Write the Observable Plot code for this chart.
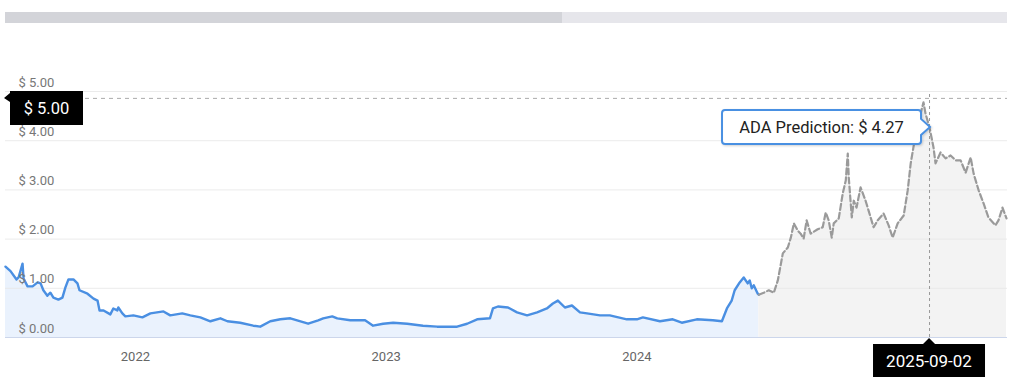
<!DOCTYPE html>
<html>
<head>
<meta charset="utf-8">
<script src="https://cdn.jsdelivr.net/npm/d3@7"></script>
<script src="https://cdn.jsdelivr.net/npm/@observablehq/plot@0.6"></script>
<style>
  html, body { margin: 0; padding: 0; background: #fff; }
  #wrap { position: relative; width: 1024px; height: 383px; overflow: hidden; font-family: Roboto, "Noto Sans", sans-serif; }
  #wrap > svg { position: absolute; left: 0; top: 0; }
  .bar { position: absolute; }
</style>
</head>
<body>
<div id="wrap"></div>
<script>
// ---- data (decimal year, USD) ----
const histYear = [2021.482,2021.502,2021.526,2021.534,2021.550,2021.554,2021.570,2021.590,2021.610,2021.622,2021.633,2021.649,2021.661,2021.673,2021.693,2021.709,2021.721,2021.733,2021.753,2021.769,2021.777,2021.809,2021.833,2021.849,2021.857,2021.873,2021.900,2021.912,2021.928,2021.932,2021.948,2021.960,2021.992,2022.028,2022.060,2022.112,2022.139,2022.187,2022.219,2022.259,2022.299,2022.339,2022.367,2022.418,2022.470,2022.498,2022.538,2022.578,2022.618,2022.645,2022.689,2022.729,2022.749,2022.785,2022.805,2022.857,2022.916,2022.948,2022.988,2023.028,2023.084,2023.147,2023.203,2023.283,2023.323,2023.363,2023.414,2023.426,2023.446,2023.486,2023.522,2023.562,2023.602,2023.641,2023.665,2023.685,2023.713,2023.741,2023.773,2023.801,2023.853,2023.892,2023.960,2024.000,2024.024,2024.092,2024.143,2024.179,2024.239,2024.303,2024.339,2024.359,2024.378,2024.390,2024.410,2024.426,2024.442,2024.450,2024.458,2024.466,2024.482,2024.486];
const histPrice = [1.44,1.35,1.18,1.22,1.50,1.20,1.04,1.04,1.12,1.10,0.96,0.85,0.91,0.81,0.77,0.81,1.02,1.18,1.18,1.10,0.96,0.89,0.79,0.75,0.55,0.55,0.47,0.59,0.55,0.61,0.49,0.43,0.45,0.41,0.49,0.53,0.45,0.49,0.45,0.41,0.33,0.39,0.33,0.30,0.24,0.22,0.33,0.37,0.39,0.35,0.28,0.35,0.39,0.43,0.39,0.35,0.35,0.24,0.28,0.30,0.28,0.24,0.22,0.22,0.28,0.37,0.39,0.59,0.63,0.61,0.51,0.45,0.51,0.59,0.69,0.75,0.61,0.65,0.51,0.49,0.45,0.45,0.37,0.37,0.41,0.33,0.37,0.30,0.37,0.35,0.33,0.59,0.75,0.96,1.12,1.22,1.10,1.16,1.00,1.06,0.89,0.87];
const predYear = [2024.486,2024.506,2024.526,2024.546,2024.562,2024.582,2024.602,2024.614,2024.626,2024.642,2024.653,2024.665,2024.677,2024.693,2024.721,2024.741,2024.753,2024.765,2024.777,2024.785,2024.805,2024.821,2024.833,2024.841,2024.845,2024.857,2024.865,2024.876,2024.892,2024.912,2024.924,2024.944,2024.960,2024.984,2025.004,2025.020,2025.040,2025.064,2025.080,2025.092,2025.104,2025.124,2025.143,2025.151,2025.167,2025.183,2025.191,2025.211,2025.231,2025.251,2025.271,2025.291,2025.311,2025.331,2025.343,2025.363,2025.383,2025.402,2025.430,2025.442,2025.458,2025.474];
const predPrice = [0.87,0.91,0.96,0.91,1.16,1.71,1.83,2.03,2.32,2.17,2.11,2.01,2.38,2.11,2.20,2.24,2.54,2.38,2.03,2.32,2.42,2.93,3.19,3.74,3.25,2.44,2.78,2.64,3.05,2.78,2.58,2.24,2.38,2.52,2.28,2.03,2.32,2.48,2.99,3.54,3.90,4.41,4.78,4.55,4.27,3.86,3.54,3.76,3.64,3.70,3.60,3.60,3.35,3.66,3.33,2.99,2.72,2.44,2.28,2.38,2.64,2.42];
const xDomain = [2021.482, 2025.478];
const xTicks = [2022, 2023, 2024];
const yTicks = [0, 1, 2, 3, 4, 5];
const crossYear = 2025.167;      // hovered point
const crossPrice = 4.86;         // horizontal crosshair level
const tipPrice = 4.27;
const tipText = "ADA Prediction: $ 4.27";
const yLabelText = "$ 5.00";
const dateText = "2025-09-02";
const navigatorShare = 0.556;

const hist = histYear.map((t, i) => ({t, p: histPrice[i]}));
const pred = predYear.map((t, i) => ({t, p: predPrice[i]}));

const chart = Plot.plot({
  width: 1024, height: 383,
  marginTop: 91, marginBottom: 46, marginLeft: 5, marginRight: 17,
  x: {domain: xDomain, label: null},
  y: {domain: [0, 5], axis: null, label: null},
  style: {fontFamily: "Roboto, sans-serif", background: "transparent", overflow: "visible"},
  marks: [
    Plot.areaY(hist, {x: "t", y: "p", fill: "#eaf2fd"}),
    Plot.areaY(pred, {x: "t", y: "p", fill: "#f3f3f3"}),
    Plot.ruleY(yTicks.filter(d => d > 0), {stroke: "#e6e6e6", strokeOpacity: 0.8}),
    Plot.ruleY([0], {stroke: "#ccd6eb"}),
    Plot.lineY(hist, {x: "t", y: "p", stroke: "#4a8fe2", strokeWidth: 2.4}),
    Plot.lineY(pred, {x: "t", y: "p", stroke: "#9a9a9a", strokeWidth: 2.2, strokeDasharray: "6,3"}),
    Plot.ruleX([crossYear], {y1: 0, y2: 5, stroke: "#999", strokeDasharray: "3,3"}),
    Plot.ruleY([crossPrice], {stroke: "#aaa", strokeDasharray: "4,4"}),
    Plot.text(yTicks, {y: d => d, frameAnchor: "left", dx: 13, dy: -9, textAnchor: "start",
      text: d => "$ " + d.toFixed(2), fill: "#777", fontSize: 13}),
    Plot.axisX({ticks: xTicks, tickFormat: d => String(d), tickSize: 0, tickPadding: 14, fontSize: 13, color: "#666", label: null})
  ]
});

const wrap = document.getElementById("wrap");
wrap.appendChild(chart);

const sx = chart.scale("x"), sy = chart.scale("y");
const left = sx.apply(xDomain[0]), right = sx.apply(xDomain[1]);

// navigator bar on top
const barBg = document.createElement("div");
barBg.className = "bar";
Object.assign(barBg.style, {left: left + "px", top: "12px", width: (right - left) + "px", height: "11px", background: "#e6e6eb"});
wrap.appendChild(barBg);
const barFg = document.createElement("div");
barFg.className = "bar";
Object.assign(barFg.style, {left: left + "px", top: "12px", width: ((right - left) * navigatorShare) + "px", height: "11px", background: "#d3d4d9"});
wrap.appendChild(barFg);

// overlay labels
const ov = d3.select(wrap).append("svg")
  .attr("width", 1024).attr("height", 383)
  .style("position", "absolute").style("left", 0).style("top", 0);

const px = sx.apply(crossYear);
const cy = sy.apply(crossPrice);
const ty = sy.apply(tipPrice);
const y0 = sy.apply(0);

// y crosshair label
ov.append("path")
  .attr("d", `M${left + 5},${cy - 7} H${left + 78} V${cy + 27} H${left + 5} V${cy + 4} L${left - 1},${cy} L${left + 5},${cy - 5} Z`)
  .attr("fill", "#000");
ov.append("text").attr("x", left + 41.5).attr("y", cy + 10).attr("dy", "0.35em")
  .attr("text-anchor", "middle").attr("fill", "#fff").attr("font-size", 16.5)
  .attr("font-family", "Roboto, sans-serif").text(yLabelText);

// x crosshair label
ov.append("path")
  .attr("d", `M${px - 56},${y0 + 7} H${px - 6} L${px},${y0 + 1} L${px + 6},${y0 + 7} H${px + 56} V${y0 + 40} H${px - 56} Z`)
  .attr("fill", "#000");
ov.append("text").attr("x", px).attr("y", y0 + 24).attr("dy", "0.35em")
  .attr("text-anchor", "middle").attr("fill", "#fff").attr("font-size", 17)
  .attr("font-family", "Roboto, sans-serif").text(dateText);

// tooltip
const bx0 = px - 207, bx1 = px - 8, by0 = ty - 17, by1 = ty + 17, r = 3;
const defs = ov.append("defs");
const f = defs.append("filter").attr("id", "sh").attr("x", "-10%").attr("y", "-30%").attr("width", "130%").attr("height", "180%");
f.append("feDropShadow").attr("dx", 1).attr("dy", 1).attr("stdDeviation", 1.2).attr("flood-color", "#000").attr("flood-opacity", 0.18);
ov.append("path")
  .attr("d", `M${bx0 + r},${by0} H${bx1 - r} Q${bx1},${by0} ${bx1},${by0 + r} V${ty - 8} L${px + 1},${ty} L${bx1},${ty + 8} V${by1 - r} Q${bx1},${by1} ${bx1 - r},${by1} H${bx0 + r} Q${bx0},${by1} ${bx0},${by1 - r} V${by0 + r} Q${bx0},${by0} ${bx0 + r},${by0} Z`)
  .attr("fill", "#fff").attr("stroke", "#4a90e2").attr("stroke-width", 2).attr("filter", "url(#sh)");
ov.append("text").attr("x", (bx0 + bx1) / 2).attr("y", ty).attr("dy", "0.35em")
  .attr("text-anchor", "middle").attr("fill", "#222").attr("font-size", 16.5)
  .attr("font-family", "Roboto, sans-serif").text(tipText);
</script>
</body>
</html>
